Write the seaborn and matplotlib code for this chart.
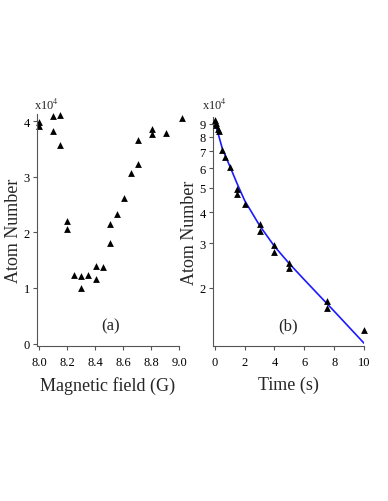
import pandas as pd
import matplotlib
matplotlib.use("Agg")
import matplotlib.pyplot as plt
import seaborn as sns

# Data (atom numbers in units of 1e4)
field = [8.0, 8.0, 8.1, 8.1, 8.15, 8.15, 8.2, 8.2, 8.25, 8.3, 8.3, 8.35,
         8.41, 8.41, 8.46, 8.51, 8.51, 8.56, 8.61, 8.66, 8.71, 8.71,
         8.81, 8.81, 8.91, 9.02]
atoms_field = [3.98, 3.91, 4.10, 3.83, 4.11, 3.58, 2.21, 2.06, 1.24, 1.22, 1.0, 1.24,
               1.40, 1.16, 1.37, 2.15, 1.81, 2.33, 2.62, 3.06, 3.66, 3.23,
               3.86, 3.77, 3.78, 4.05]

time = [0.0, 0.05, 0.1, 0.2, 0.3, 0.5, 0.67, 1.0, 1.5, 1.5, 2.0, 3.0, 3.0,
        4.0, 4.0, 5.0, 5.0, 7.5, 7.5, 10.0]
atoms_time = [9.3, 9.1, 8.9, 8.6, 8.4, 7.07, 6.65, 6.06, 4.97, 4.74, 4.32, 3.60, 3.35,
              2.96, 2.77, 2.51, 2.39, 1.77, 1.65, 1.35]

fit_time = [0.0, 0.5, 1.0, 1.5, 2.0, 3.0, 4.0, 5.0, 6.0, 7.0, 8.0, 9.0, 10.0]
fit_atoms = [9.17, 7.18, 6.11, 5.19, 4.45, 3.54, 2.92, 2.49, 2.15, 1.86, 1.61, 1.39, 1.20]

log_ticks = [2, 3, 4, 5, 6, 7, 8, 9]

df_a = pd.DataFrame({"field": field, "atoms": atoms_field})
df_b = pd.DataFrame({"time": time, "atoms": atoms_time})
df_fit = pd.DataFrame({"time": fit_time, "atoms": fit_atoms})

sns.set_style("ticks")
plt.rcParams["font.family"] = ["Liberation Serif", "DejaVu Serif"]
plt.rcParams["axes.edgecolor"] = "#555555"
plt.rcParams["xtick.color"] = "#555555"
plt.rcParams["ytick.color"] = "#555555"
plt.rcParams["xtick.labelcolor"] = "black"
plt.rcParams["ytick.labelcolor"] = "black"

fig = plt.figure(figsize=(3.88, 5.02), dpi=100)
ax1 = fig.add_axes([0.0954, 0.308, 0.366, 0.463])
ax2 = fig.add_axes([0.548, 0.309, 0.390, 0.456])

# Panel (a)
sns.scatterplot(data=df_a, x="field", y="atoms", marker="^", color="black",
                s=24, edgecolor="black", linewidth=0, ax=ax1, clip_on=False)
ax1.set_xlim(7.985, 9.0)
ax1.set_ylim(-0.05, 4.13)
ax1.set_xticks([8.0, 8.2, 8.4, 8.6, 8.8, 9.0])
ax1.set_xticklabels(["8.0", "8.2", "8.4", "8.6", "8.8", "9.0"])
ax1.set_yticks([0, 1, 2, 3, 4])
ax1.set_xlabel("Magnetic field (G)", fontsize=13, labelpad=6)
ax1.set_ylabel("Atom Number", fontsize=13, labelpad=1)
ax1.text(8.51, 0.32, "(a)", fontsize=12, ha="center", va="center")
ax1.text(-0.02, 1.01, r"x10$^4$", transform=ax1.transAxes, fontsize=9,
         ha="left", va="bottom", math_fontfamily="stix")

# Panel (b)
sns.lineplot(data=df_fit, x="time", y="atoms", color="#1a1aff", linewidth=1.2, ax=ax2)
sns.scatterplot(data=df_b, x="time", y="atoms", marker="^", color="black",
                s=24, edgecolor="black", linewidth=0, ax=ax2, clip_on=False, zorder=3)
ax2.set_yscale("log")
ax2.set_xlim(-0.15, 10.0)
ax2.set_ylim(1.17, 9.6)
ax2.set_xticks([0, 2, 4, 6, 8, 10])
ax2.set_yticks(log_ticks)
ax2.set_yticklabels([str(t) for t in log_ticks])
ax2.minorticks_off()
ax2.set_xlabel("Time (s)", fontsize=13, labelpad=6)
ax2.set_ylabel("Atom Number", fontsize=13, labelpad=1)
ax2.text(4.9, 1.41, "(b)", fontsize=12, ha="center", va="center")
ax2.text(-0.07, 1.02, r"x10$^4$", transform=ax2.transAxes, fontsize=9,
         ha="left", va="bottom", math_fontfamily="stix")

for ax in (ax1, ax2):
    sns.despine(ax=ax)
    ax.tick_params(axis="both", labelsize=9, length=3, width=0.8)
    ax.tick_params(axis="x", pad=4)
    ax.tick_params(axis="y", pad=2)
    for sp in ("left", "bottom"):
        ax.spines[sp].set_linewidth(0.8)

fig.savefig("out.png", dpi=100)
